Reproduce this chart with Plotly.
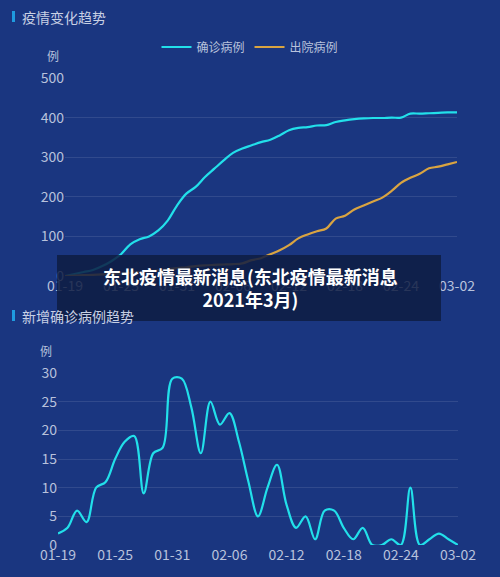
import plotly.graph_objects as go
import datetime as dt

start = dt.date(2021, 1, 19)
dates = [(start + dt.timedelta(days=i)).strftime("%m-%d") for i in range(43)]
tick_labels = ["01-19", "01-25", "01-31", "02-06", "02-12", "02-18", "02-24", "03-02"]

confirmed = [0, 5, 10, 15, 25, 38, 55, 80, 93, 100, 115, 140, 178, 208, 225, 250, 271, 292, 311, 322,
             330, 338, 344, 355, 368, 374, 376, 380, 381, 389, 393, 396, 398, 399, 399, 400, 400, 410,
             410, 411, 412, 413, 413]
discharged = [0, 1, 2, 3, 4, 5, 6, 8, 10, 12, 14, 17, 20, 22, 25, 27, 28, 29, 30, 32, 40, 45, 55, 65, 78,
              95, 105, 113, 120, 145, 152, 168, 178, 188, 198, 215, 235, 248, 258, 272, 276, 282, 288]
new_cases = [2, 3, 6, 4, 10, 11, 15, 18, 19, 9, 16, 17, 29, 29, 24, 16, 25, 21, 23, 18, 11, 5, 10, 14, 7,
             3, 5, 1, 6, 6, 3, 1, 3, 0, 0, 1, 0, 10, 0, 1, 2, 1, 0]

H = 577
def py(p):
    return 1 - p / H

cyan = "#22e0ea"
orange = "#d9a441"
tickc = "#b8c2dc"
grid = "rgba(255,255,255,0.10)"
fnt = "Noto Sans CJK SC"

fig = go.Figure()
fig.add_trace(go.Scatter(x=dates, y=confirmed, name="确诊病例", mode="lines",
                         line=dict(color=cyan, width=2.2, shape="spline"), xaxis="x", yaxis="y"))
fig.add_trace(go.Scatter(x=dates, y=discharged, name="出院病例", mode="lines",
                         line=dict(color=orange, width=2.2, shape="spline"), xaxis="x", yaxis="y"))
fig.add_trace(go.Scatter(x=dates, y=new_cases, name="新增", mode="lines", showlegend=False,
                         line=dict(color=cyan, width=2.2, shape="spline"), xaxis="x2", yaxis="y2"))

axcommon = dict(showline=False, zeroline=False, automargin=False,
                tickfont=dict(color=tickc, size=14, family=fnt))
fig.update_layout(
    width=500, height=577, margin=dict(l=0, r=0, t=0, b=0, autoexpand=False),
    paper_bgcolor="#1a3680", plot_bgcolor="#1a3680",
    font=dict(family=fnt),
    xaxis=dict(domain=[0.13, 0.914], anchor="y", type="category", tickvals=tick_labels,
               ticktext=tick_labels, showgrid=False, ticks="", range=[0, 42], **axcommon),
    yaxis=dict(domain=[py(276), py(78)], anchor="x", range=[0, 500], dtick=100,
               gridcolor=grid, **axcommon),
    xaxis2=dict(domain=[0.116, 0.916], anchor="y2", type="category", tickvals=tick_labels,
                ticktext=tick_labels, showgrid=False, ticks="", range=[0, 42], **axcommon),
    yaxis2=dict(domain=[py(545), py(373)], anchor="x2", range=[0, 30], dtick=5,
                gridcolor=grid, **axcommon),
    legend=dict(orientation="h", x=0.5, xanchor="center", y=py(47), yanchor="middle",
                font=dict(color=tickc, size=12), bgcolor="rgba(0,0,0,0)", itemwidth=30),
    shapes=[
        dict(type="rect", xref="paper", yref="paper", x0=12/500, x1=15/500, y0=py(22), y1=py(11),
             fillcolor="#1f9be0", line_width=0),
        dict(type="rect", xref="paper", yref="paper", x0=12/500, x1=15/500, y0=py(321), y1=py(310),
             fillcolor="#1f9be0", line_width=0),
        dict(type="rect", xref="paper", yref="paper", x0=57/500, x1=441/500, y0=py(321), y1=py(255),
             fillcolor="rgba(14,28,66,0.85)", line_width=0, layer="above"),
    ],
    annotations=[
        dict(text="疫情变化趋势", x=20/500, y=py(17), xref="paper", yref="paper", xanchor="left",
             yanchor="middle", showarrow=False, font=dict(color="#c8d0e4", size=14)),
        dict(text="新增确诊病例趋势", x=20/500, y=py(316), xref="paper", yref="paper", xanchor="left",
             yanchor="middle", showarrow=False, font=dict(color="#c8d0e4", size=14)),
        dict(text="例", x=45/500, y=py(56), xref="paper", yref="paper", showarrow=False,
             yanchor="middle", font=dict(color=tickc, size=12)),
        dict(text="例", x=38/500, y=py(350), xref="paper", yref="paper", showarrow=False,
             yanchor="middle", font=dict(color=tickc, size=12)),
        dict(text="<b>东北疫情最新消息(东北疫情最新消息<br>2021年3月)</b>", x=0.5, y=py(287),
             xref="paper", yref="paper", showarrow=False, align="center", yanchor="middle",
             font=dict(color="white", size=18, family=fnt)),
    ],
)
fig.write_html("out.html", config={"displayModeBar": False},
               post_script="document.body.style.margin='0';")
